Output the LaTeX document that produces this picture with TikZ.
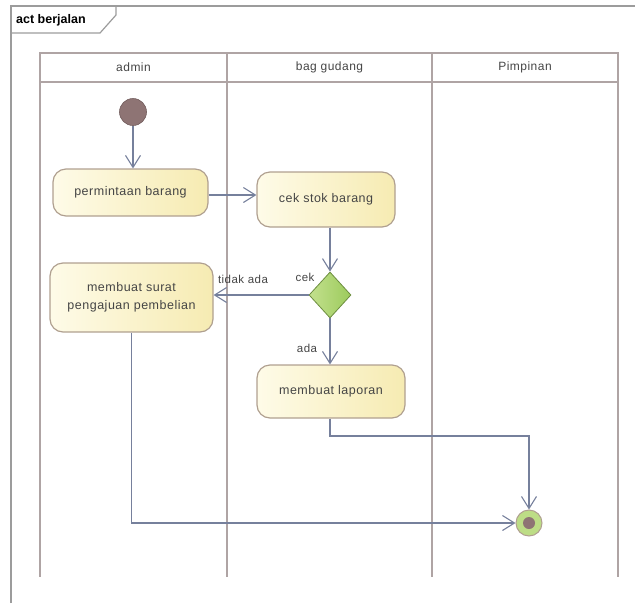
\documentclass[tikz,border=0pt]{standalone}
\usepackage{fontspec}
\setmainfont{Liberation Sans}
\newfontfamily\spacedfont[LetterSpace=4]{Liberation Sans}
\usetikzlibrary{arrows.meta,shapes.geometric,positioning}
\definecolor{laneline}{HTML}{AFA4A4}
\definecolor{frameline}{HTML}{9C9C9C}
\definecolor{flow}{HTML}{76809C}
\definecolor{actborder}{HTML}{B0A090}
\definecolor{actleft}{HTML}{FEFBE8}
\definecolor{actright}{HTML}{F6EBB2}
\definecolor{startfill}{HTML}{8E7474}
\definecolor{decleft}{HTML}{C3E08E}
\definecolor{decright}{HTML}{9CCB5C}
\definecolor{txt}{HTML}{454545}
\tikzset{
  action/.style={draw=actborder, line width=1.2pt, rounded corners=13pt,
    left color=actleft, right color=actright, text=txt,
    font=\spacedfont\fontsize{12.5}{15}\selectfont, align=center, inner sep=0pt},
  flowline/.style={draw=flow, line width=1.1pt},
  flowarrow/.style={flowline, -{Straight Barb[length=12pt,width=15pt,line width=1.1pt]}},
  lane/.style={draw=laneline, line width=1.6pt},
  lanetitle/.style={text=txt, font=\spacedfont\fontsize{12}{14}\selectfont},
  guard/.style={text=txt, font=\spacedfont\fontsize{11.5}{13}\selectfont}
}
\begin{document}
\begin{tikzpicture}[x=1pt,y=-1pt]
\useasboundingbox (0,0) rectangle (635,603);
% outer frame with name tab
\draw[frameline, line width=1.2pt] (11,603) -- (11,6) -- (635,6);
\draw[frameline, line width=1.2pt] (11,33) -- (100,33) -- (116,15) -- (116,6);
\node[anchor=west, font=\fontsize{12.5}{14}\selectfont\bfseries, inner sep=0pt] (title) at (16,20) {act berjalan};

% swimlanes
\draw[lane] (40,53) rectangle (618,82);
\foreach \x in {40,227,432,618} \draw[lane] (\x,53) -- (\x,577);
\node[lanetitle] (l1) at (133.5,67.5) {admin};
\node[lanetitle] (l2) at (329.5,67.5) {bag gudang};
\node[lanetitle] (l3) at (525,67.5) {Pimpinan};

% nodes
\node[circle, fill=startfill, draw=startfill!80!black, line width=0.6pt, minimum size=27pt, inner sep=0pt] (start) at (133,112) {};
\node[action, minimum width=155pt, minimum height=47pt] (minta) at (130.5,192.5) {permintaan barang};
\node[action, minimum width=138pt, minimum height=55pt] (cek) at (326,199.5) {cek stok barang};
\node[diamond, aspect=0.9, draw=decright!70!black, line width=0.8pt, left color=decleft, right color=decright, minimum width=42pt, minimum height=46pt, inner sep=0pt] (dec) at (330,295) {};
\node[action, minimum width=163pt, minimum height=69pt] (surat) at (131.5,297.5) {membuat surat\\[3pt]pengajuan pembelian};
\node[action, minimum width=148pt, minimum height=53pt] (lapor) at (331,391.5) {membuat laporan};
\node[circle, draw=actborder, line width=1pt, fill=decleft!85!decright, minimum size=26pt, inner sep=0pt] (end) at (529,523) {};
\node[circle, fill=startfill, minimum size=12pt, inner sep=0pt] (enddot) at (end.center) {};

% guard labels
\node[guard, inner sep=1pt] (gcek) at (305,277) {cek};
\node[guard, inner sep=1pt] (gtidak) at (243,279) {tidak ada};
\node[guard, inner sep=1pt] (gada) at (307,348) {ada};

% control flow
\draw[flowarrow] (start) -- (start |- minta.north);
\draw[flowarrow] (minta.east |- 0,195) -- (cek.west |- 0,195);
\draw[flowarrow] (cek.south -| dec.north) -- (dec.north);
\draw[flowarrow] (dec.west) -- (surat.east |- dec.west);
\draw[flowarrow] (dec.south) -- (dec.south |- lapor.north);
\coordinate (c1) at (330,436);
\draw[flowarrow] (lapor.south -| c1) -- (c1) -| (end.north);
\draw[flowarrow] (surat.south) |- (end.west);
\end{tikzpicture}
\end{document}
